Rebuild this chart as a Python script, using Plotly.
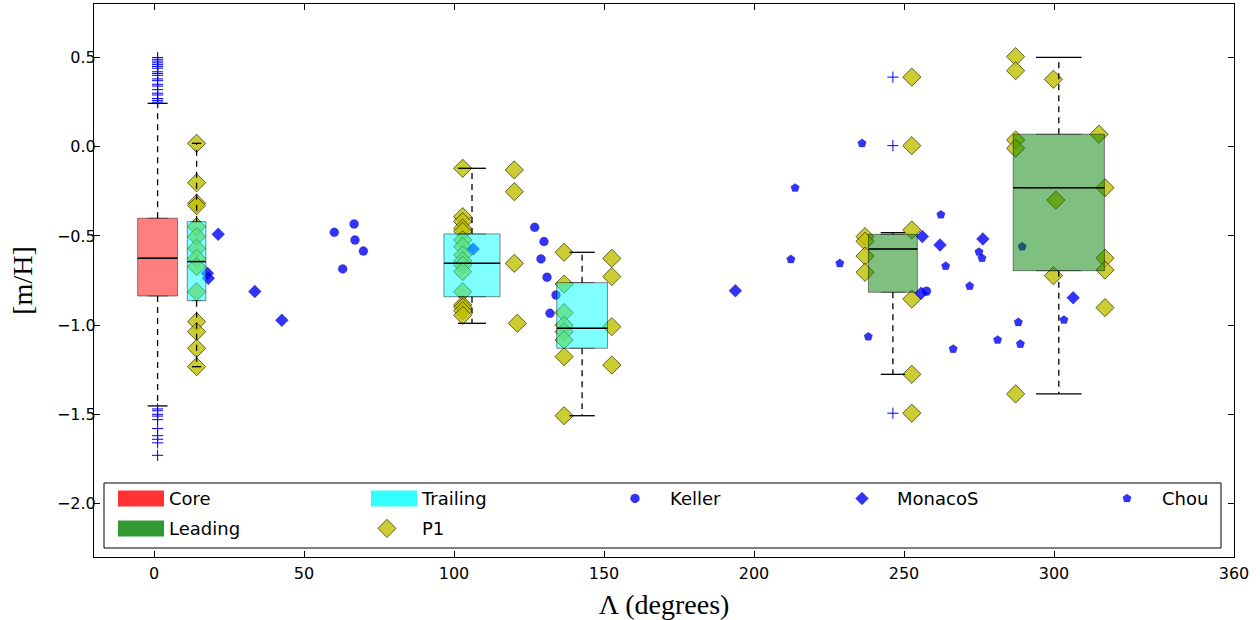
import plotly.graph_objects as go

# ---------------- data ----------------
# box statistics
box_group = ["Core", "Trailing", "Trailing", "Trailing", "Leading", "Leading"]
box_pos = [1.2, 14.2, 106.0, 142.7, 246.3, 301.6]
box_width = [13.3, 6.2, 18.7, 16.9, 16.3, 30.4]
box_q1 = [-0.837, -0.863, -0.841, -1.130, -0.816, -0.695]
box_median = [-0.625, -0.644, -0.654, -1.018, -0.573, -0.230]
box_q3 = [-0.401, -0.420, -0.489, -0.762, -0.491, 0.070]
box_whislo = [-1.453, -1.233, -0.990, -1.508, -1.276, -1.386]
box_whishi = [0.243, 0.019, -0.121, -0.592, -0.482, 0.501]

# outliers (fliers) of the Core box and of the first Leading box
core_fliers = [0.50, 0.49, 0.48, 0.47, 0.46, 0.45, 0.44, 0.42, 0.41, 0.40,
               0.38, 0.37, 0.35, 0.34, 0.32, 0.30, 0.29, 0.27, 0.26, 0.25,
               -1.47, -1.48, -1.50, -1.51, -1.53, -1.58, -1.62, -1.64, -1.66, -1.73]
leading1_fliers = [0.39, 0.006, -1.494]

keller_x = [60.1, 66.7, 67.0, 69.8, 62.9, 126.9, 130.0, 129.0, 131.0, 134.0, 132.0, 257.5]
keller_y = [-0.480, -0.433, -0.523, -0.585, -0.685, -0.452, -0.532, -0.629, -0.732, -0.831, -0.934, -0.810]

monaco_x = [21.4, 17.8, 18.1, 33.6, 42.6, 106.4, 193.8, 256.1, 262.0, 255.7, 276.3, 306.4]
monaco_y = [-0.491, -0.710, -0.738, -0.811, -0.973, -0.573, -0.807, -0.504, -0.551, -0.822, -0.517, -0.846]

chou_x = [236.0, 213.7, 212.3, 228.6, 238.1, 262.3, 263.9, 271.9, 266.4, 275.0,
          276.0, 288.1, 281.2, 288.8, 303.3, 289.4]
chou_y = [0.019, -0.231, -0.631, -0.654, -1.065, -0.381, -0.669, -0.781, -1.134, -0.590,
          -0.625, -0.984, -1.083, -1.106, -0.971, -0.560]

p1_x = [14.2, 14.2, 14.2, 14.2, 14.2, 14.2, 14.2, 14.2, 14.2, 14.2, 14.2, 14.2, 14.2, 14.2,
        102.9, 102.9, 102.9, 102.9, 102.9, 102.9, 102.9, 102.9, 102.9, 102.9, 102.9, 102.9,
        102.9, 102.9, 102.9, 102.9,
        120.1, 120.1, 120.1, 121.1,
        136.7, 136.7, 136.7, 136.7, 136.7, 136.7, 136.7, 136.7,
        152.6, 152.6, 152.6, 152.6,
        237.0, 237.0, 237.0, 237.0,
        252.6, 252.6, 252.6, 252.6, 252.6, 252.6,
        287.2, 287.2, 287.2, 287.2, 287.2,
        299.8, 299.8, 300.6,
        315.0, 317.0, 317.0, 317.0, 317.0]
p1_y = [0.019, -0.202, -0.317, -0.330, -0.448, -0.504, -0.569, -0.625, -0.672, -0.813,
        -0.981, -1.037, -1.130, -1.233,
        -0.121, -0.392, -0.420, -0.457, -0.475, -0.523, -0.560, -0.607, -0.640, -0.664,
        -0.700, -0.813, -0.887, -0.900, -0.920, -0.945,
        -0.130, -0.252, -0.654, -0.990,
        -0.592, -0.770, -0.930, -1.000, -1.037, -1.083, -1.177, -1.508,
        -0.626, -0.728, -1.009, -1.224,
        -0.504, -0.530, -0.613, -0.704,
        0.390, 0.006, -0.467, -0.854, -1.276, -1.494,
        0.505, 0.426, 0.038, -0.009, -1.386,
        0.378, -0.723, -0.299,
        0.070, -0.230, -0.625, -0.691, -0.902]

x_ticks = [0, 50, 100, 150, 200, 250, 300, 360]
y_ticks = [-2.0, -1.5, -1.0, -0.5, 0.0, 0.5]

# ---------------- styles ----------------
box_fill = {"Core": "rgba(255,0,0,0.5)", "Trailing": "rgba(0,255,255,0.5)",
            "Leading": "rgba(0,128,0,0.5)"}
legend_fill = {"Core": "#ff3333", "Trailing": "#33ffff", "Leading": "#339933"}
BLUE = "rgba(0,0,255,0.8)"

# plot-area geometry in pixels (used to place the legend grid)
W, H = 1260, 620
ML, MR, MT, MB = 94, 26, 4, 63
PW, PH = W - ML - MR, H - MT - MB
col_text_px = [170, 423, 671, 898, 1163]   # text start of each legend column
row_mid_px = [498.7, 528.7]                 # vertical centre of each legend row
entries = {  # name: (column, row, itemwidth)
    "Core": (0, 0, 46), "Leading": (0, 1, 46), "Trailing": (1, 0, 46), "P1": (1, 1, 60),
    "Keller": (2, 0, 60), "MonacoS": (3, 0, 60), "Chou": (4, 0, 60)}

legend_layouts = {}
legend_key_of = {}
_n = [0]


def new_legend(col, row, iw, dy_px=0.0):
    _n[0] += 1
    key = "legend" if _n[0] == 1 else "legend%d" % _n[0]
    x_px = col_text_px[col] - (iw + 11)
    legend_layouts[key] = dict(
        x=(x_px - ML) / PW, y=(H - MB - (row_mid_px[row] + dy_px)) / PH,
        xanchor="left", yanchor="middle", itemwidth=iw,
        bgcolor="rgba(0,0,0,0)", borderwidth=0,
        font=dict(family="DejaVu Sans", size=18, color="black"))
    return key


for nm, (c, r, iw) in entries.items():
    legend_key_of[nm] = new_legend(c, r, iw)

fig = go.Figure()

# scatter series (drawn beneath the boxes)
fig.add_trace(go.Scatter(
    x=p1_x, y=p1_y, mode="markers", name="P1", legend=legend_key_of["P1"], zorder=0,
    marker=dict(symbol="diamond", size=14, color="rgba(191,191,0,0.8)",
                line=dict(color="rgba(40,40,0,0.7)", width=1))))
fig.add_trace(go.Scatter(
    x=keller_x, y=keller_y, mode="markers", name="Keller", legend=legend_key_of["Keller"], zorder=0,
    marker=dict(symbol="circle", size=9, color=BLUE,
                line=dict(color="rgba(0,0,0,0.4)", width=0.5))))
fig.add_trace(go.Scatter(
    x=monaco_x, y=monaco_y, mode="markers", name="MonacoS", legend=legend_key_of["MonacoS"], zorder=0,
    marker=dict(symbol="diamond", size=10, color=BLUE,
                line=dict(color="rgba(0,0,0,0.4)", width=0.5))))
fig.add_trace(go.Scatter(
    x=chou_x, y=chou_y, mode="markers", name="Chou", legend=legend_key_of["Chou"], zorder=0,
    marker=dict(symbol="pentagon", size=9, color=BLUE,
                line=dict(color="rgba(0,0,0,0.4)", width=0.5))))

# boxes
for g, p, w, q1, md, q3 in zip(box_group, box_pos, box_width, box_q1, box_median, box_q3):
    fig.add_trace(go.Box(
        x=[p], q1=[q1], median=[md], q3=[q3], lowerfence=[q1], upperfence=[q3],
        width=w, fillcolor=box_fill[g], line=dict(color="rgba(0,0,0,0.45)", width=1),
        boxpoints=False, showlegend=False, hoverinfo="skip", zorder=1))

# whiskers, caps and medians built from the box statistics
wx, wy, cx, cy, mx, my = [], [], [], [], [], []
for p, w, q1, md, q3, lo, hi in zip(box_pos, box_width, box_q1, box_median, box_q3,
                                    box_whislo, box_whishi):
    wx += [p, p, None, p, p, None]
    wy += [q3, hi, None, q1, lo, None]
    cx += [p - w / 4, p + w / 4, None, p - w / 4, p + w / 4, None]
    cy += [hi, hi, None, lo, lo, None]
    mx += [p - w / 2, p + w / 2, None]
    my += [md, md, None]
fig.add_trace(go.Scatter(x=wx, y=wy, mode="lines", showlegend=False, hoverinfo="skip",
                         line=dict(color="black", width=1.3, dash="6px,5px"), zorder=2))
fig.add_trace(go.Scatter(x=cx, y=cy, mode="lines", showlegend=False, hoverinfo="skip",
                         line=dict(color="black", width=1.3), zorder=2))
fig.add_trace(go.Scatter(x=mx, y=my, mode="lines", showlegend=False, hoverinfo="skip",
                         line=dict(color="black", width=1.5), zorder=2))

# fliers
fig.add_trace(go.Scatter(
    x=[box_pos[0]] * len(core_fliers) + [box_pos[4]] * len(leading1_fliers),
    y=core_fliers + leading1_fliers, mode="markers", showlegend=False, hoverinfo="skip",
    marker=dict(symbol="cross-thin-open", size=8, color="blue",
                line=dict(color="blue", width=1)),
    zorder=2))

# legend patches for the box groups (a thick band: the named entry plus two
# blank-label strips just above and below it)
for g in ["Core", "Trailing", "Leading"]:
    fig.add_trace(go.Scatter(x=[None], y=[None], mode="lines", name=g,
                             legend=legend_key_of[g],
                             line=dict(color=legend_fill[g], width=10)))
    c, r, iw = entries[g]
    for dy in (-3.0, 3.0):
        k = new_legend(c, r, iw, dy)
        fig.add_trace(go.Scatter(x=[None], y=[None], mode="lines", name=" ",
                                 legend=k, hoverinfo="skip",
                                 line=dict(color=legend_fill[g], width=10)))

fig.update_layout(
    width=W, height=H,
    margin=dict(l=ML, r=MR, t=MT, b=MB),
    paper_bgcolor="white", plot_bgcolor="white",
    font=dict(family="DejaVu Sans", size=16, color="black"),
    showlegend=True,
    xaxis=dict(range=[-20, 360], tickvals=x_ticks, ticktext=[str(t) for t in x_ticks],
               ticks="inside", ticklen=6, tickcolor="black", showline=True, mirror="allticks",
               linecolor="black", linewidth=1, showgrid=False, zeroline=False,
               ticklabelstandoff=2,
               title=dict(text="Λ (degrees)", font=dict(family="Liberation Serif", size=28),
                          standoff=14),
               automargin=False),
    yaxis=dict(range=[-2.3, 0.8], tickvals=y_ticks, tickformat=".1f",
               ticks="inside", ticklen=6, tickcolor="black", showline=True, mirror="allticks",
               linecolor="black", linewidth=1, showgrid=False, zeroline=False,
               ticklabelstandoff=-6,
               title=dict(text="[m/H]", font=dict(family="Liberation Serif", size=28),
                          standoff=16),
               automargin=False),
    shapes=[dict(type="rect", xref="paper", yref="paper",
                 x0=(104 - ML) / PW, x1=(1221 - ML) / PW,
                 y0=(H - MB - 548) / PH, y1=(H - MB - 483) / PH,
                 fillcolor="white", line=dict(color="black", width=1), layer="above")],
    **legend_layouts,
)

fig.write_html("out.html", config={"displayModeBar": False},
               post_script="document.body.style.margin='0px';")
